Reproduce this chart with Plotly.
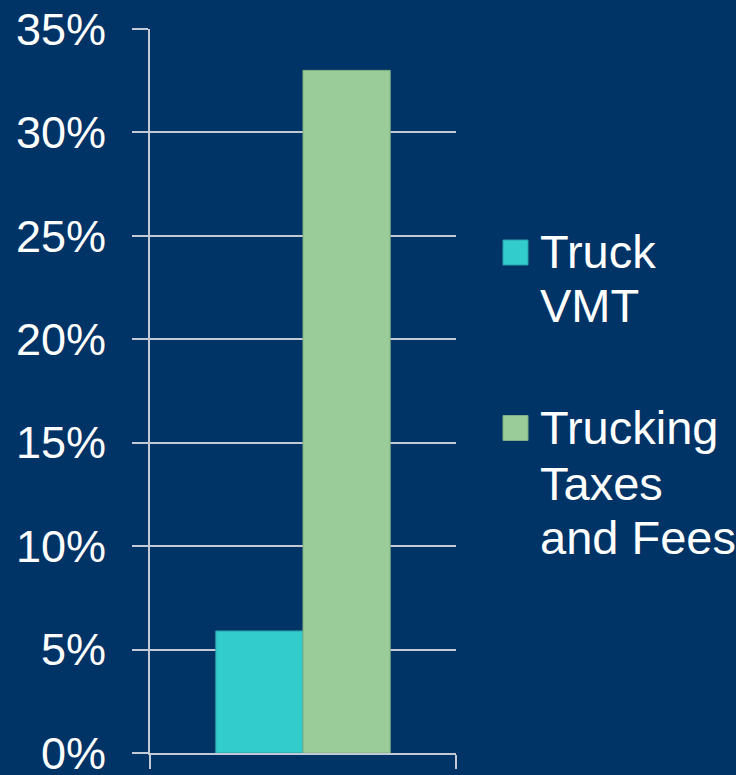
import plotly.graph_objects as go

categories = [""]
series_names = ["Truck VMT", "Trucking Taxes and Fees"]
series_values = [[5.9], [33.0]]
legend_lines = [["Truck", "VMT"], ["Trucking", "Taxes", "and Fees"]]
tick_values = [0, 5, 10, 15, 20, 25, 30, 35]
tick_labels = [f"{v}%" for v in tick_values]

colors = ["#33CCCC", "#99CC99"]
outline = ["#2a9fa8", "#7fae82"]
bg = "#003366"
grid = "#c3cad6"
font_family = "Liberation Sans, Arial, sans-serif"

fig = go.Figure()
for name, vals, c, oc in zip(series_names, series_values, colors, outline):
    fig.add_trace(go.Bar(x=categories, y=vals, name=name,
                         marker=dict(color=c, line=dict(color=oc, width=1)),
                         showlegend=False))

# manual legend (large swatches and text)
leg_sw_y = [252.5, 428]
line_y = [[251.5, 305], [427, 483, 537]]
for i in range(len(series_names)):
    yc = leg_sw_y[i]
    fig.add_shape(type="rect", xref="paper", yref="paper",
                  x0=(503 - 150) / 306, x1=(528 - 150) / 306,
                  y0=(753 - (yc + 12.5)) / 724, y1=(753 - (yc - 12.5)) / 724,
                  fillcolor=colors[i], line=dict(color=outline[i], width=1))
    for txt, ly in zip(legend_lines[i], line_y[i]):
        fig.add_annotation(text=txt, xref="paper", yref="paper",
                           x=(538 - 150) / 306, y=(753 - ly) / 724,
                           xanchor="left", yanchor="middle", showarrow=False,
                           font=dict(size=47, color="white", family=font_family))

fig.update_layout(
    width=736, height=775,
    margin=dict(l=150, r=280, t=29, b=22, autoexpand=False),
    paper_bgcolor=bg, plot_bgcolor=bg,
    barmode="group", bargap=0.43, bargroupgap=0,
    font=dict(family=font_family, color="white"),
)
fig.update_yaxes(range=[0, 35], tickvals=tick_values, ticktext=tick_labels,
                 showgrid=True, gridcolor=grid, gridwidth=2,
                 ticks="outside", ticklen=16, tickwidth=2, tickcolor=grid,
                 showline=True, linecolor=grid, linewidth=2,
                 tickfont=dict(size=45, color="white", family=font_family),
                 ticklabelstandoff=17, ticklabeloverflow="allow",
                 zeroline=False, fixedrange=True, automargin=False)
fig.update_xaxes(type="category", tickson="boundaries", ticks="outside",
                 ticklen=14, tickwidth=2, tickcolor=grid,
                 showline=True, linecolor=grid, linewidth=2,
                 showticklabels=False, showgrid=False, fixedrange=True,
                 automargin=False)

fig.write_html("out.html", config={"displayModeBar": False})

with open("out.html", "r", encoding="utf-8") as f:
    html = f.read()
html = html.replace("<head>", "<head><style>html,body{margin:0;padding:0;background:#003366;}</style>", 1)
with open("out.html", "w", encoding="utf-8") as f:
    f.write(html)
